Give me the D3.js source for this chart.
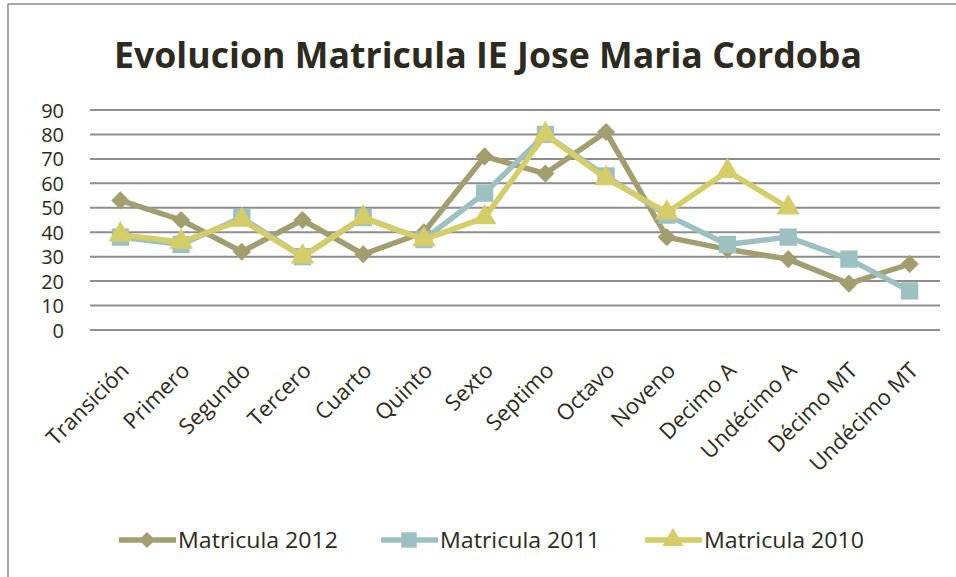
<!DOCTYPE html>
<html><head><meta charset="utf-8">
<script src="https://cdn.jsdelivr.net/npm/d3@7"></script>
<style>
html,body{margin:0;padding:0;background:#fff;}
svg{display:block;font-family:"Open Sans","Noto Sans",sans-serif;}
</style></head>
<body>
<svg id="chart" width="956" height="577"></svg>
<script>
const categories = ["Transición","Primero","Segundo","Tercero","Cuarto","Quinto","Sexto","Septimo","Octavo","Noveno","Decimo A","Undécimo A","Décimo MT","Undécimo MT"];
const matricula2012 = [53,45,32,45,31,40,71,64,81,38,33,29,19,27];
const matricula2011 = [38,35,46,30,46,37,56,80,63,47,35,38,29,16];
const matricula2010 = [39,36,45,30,46,37,46,80,62,48,65,50,null,null];
const yTicks = [0,10,20,30,40,50,60,70,80,90];
const seriesNames = ["Matricula 2012","Matricula 2011","Matricula 2010"];
const title = "Evolucion Matricula IE Jose Maria Cordoba";

const colors = ["#A39E70","#9CC1C0","#D5CD68"];
const symbols = [d3.symbolDiamond2, d3.symbolSquare, d3.symbolTriangle];
const symSizes = [210, 300, 240];

const svg = d3.select("#chart");
svg.append("rect").attr("x",8).attr("y",4).attr("width",960).attr("height",600)
  .attr("fill","#fff").attr("stroke","#8c8c8c").attr("stroke-width",1.5);

svg.append("text").attr("x",488).attr("y",68).attr("text-anchor","middle")
  .attr("font-size",36).attr("font-weight","bold").attr("fill","#2d2a20")
  .attr("textLength",748).attr("lengthAdjust","spacingAndGlyphs").text(title);

const x = d3.scaleBand().domain(categories).range([90,940]);
const y = d3.scaleLinear().domain([0,90]).range([330,110]);

// grid
svg.append("g").selectAll("line").data(yTicks).join("line")
  .attr("x1",90).attr("x2",940).attr("y1",d=>y(d)).attr("y2",d=>y(d))
  .attr("stroke","#8e8e8e").attr("stroke-width",2);

// y axis labels
const yAxis = d3.axisLeft(y).tickValues(yTicks).tickSize(0).tickPadding(0);
const gy = svg.append("g").attr("transform","translate(64,0)").call(yAxis);
gy.select(".domain").remove();
gy.selectAll("text").attr("font-size",20).attr("fill","#2d2a20")
  .attr("font-family","'Open Sans',sans-serif").attr("dy","0.35em");

// x axis labels
const xAxis = d3.axisBottom(x).tickSize(0).tickPadding(0);
const gx = svg.append("g").attr("transform","translate(0,350)").call(xAxis);
gx.select(".domain").remove();
gx.selectAll(".tick text").attr("font-size",22).attr("fill","#2d2a20")
  .attr("font-family","'Open Sans',sans-serif")
  .attr("text-anchor","end").attr("dy","0").attr("y",0).attr("x",0)
  .attr("transform","translate(10,22) rotate(-45)");

const data = [matricula2012, matricula2011, matricula2010];
const cx = c => x(c) + x.bandwidth()/2;
const line = d3.line().defined(d=>d.v!=null).x(d=>cx(d.c)).y(d=>y(d.v));

data.forEach((vals,i)=>{
  const pts = vals.map((v,j)=>({c:categories[j],v}));
  const g = svg.append("g");
  g.append("path").datum(pts).attr("d",line).attr("fill","none")
    .attr("stroke",colors[i]).attr("stroke-width",5.5).attr("stroke-linejoin","round");
  g.selectAll("path.m").data(pts.filter(d=>d.v!=null)).join("path").attr("class","m")
    .attr("transform",d=>`translate(${cx(d.c)},${y(d.v)})`)
    .attr("d",d3.symbol().type(symbols[i]).size(symSizes[i])).attr("fill",colors[i]);
});

// legend
const legX = [119,381,645];
const lg = svg.append("g");
seriesNames.forEach((n,i)=>{
  const gg = lg.append("g").attr("transform",`translate(${legX[i]},540)`);
  gg.append("line").attr("x1",0).attr("x2",57).attr("y1",0).attr("y2",0)
    .attr("stroke",colors[i]).attr("stroke-width",5.5);
  gg.append("path").attr("transform","translate(28,0)")
    .attr("d",d3.symbol().type(symbols[i]).size(symSizes[i]*0.8)).attr("fill",colors[i]);
  gg.append("text").attr("x",59).attr("y",0).attr("dy","0.35em")
    .attr("font-size",22).attr("fill","#2d2a20")
    .attr("textLength",160).attr("lengthAdjust","spacingAndGlyphs").text(n);
});
</script>
</body></html>
